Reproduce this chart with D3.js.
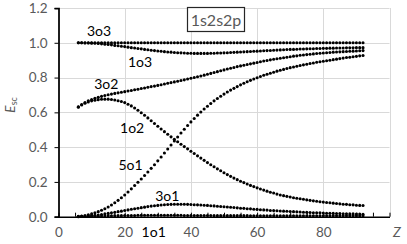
<!DOCTYPE html>
<html>
<head>
<meta charset="utf-8">
<script src="https://cdn.jsdelivr.net/npm/d3@7"></script>
<style>
  body { margin: 0; background: #fff; }
  svg { display: block; font-family: Lato, "Open Sans", sans-serif; }
</style>
</head>
<body>
<svg width="407" height="244"></svg>
<script>
// nuclear charge Z, one point per ion
const Z = [
  6, 7, 8, 9, 10, 11, 12, 13, 14, 15,
  16, 17, 18, 19, 20, 21, 22, 23, 24, 25,
  26, 27, 28, 29, 30, 31, 32, 33, 34, 35,
  36, 37, 38, 39, 40, 41, 42, 43, 44, 45,
  46, 47, 48, 49, 50, 51, 52, 53, 54, 55,
  56, 57, 58, 59, 60, 61, 62, 63, 64, 65,
  66, 67, 68, 69, 70, 71, 72, 73, 74, 75,
  76, 77, 78, 79, 80, 81, 82, 83, 84, 85,
  86, 87, 88, 89, 90, 91, 92
];

const e3o3 = [
  1.000, 1.000, 1.000, 1.000, 1.000, 1.000, 1.000, 1.000, 1.000, 1.000,
  1.000, 1.000, 1.000, 1.000, 1.000, 1.000, 1.000, 1.000, 1.000, 1.000,
  1.000, 1.000, 1.000, 1.000, 1.000, 1.000, 1.000, 1.000, 1.000, 1.000,
  1.000, 1.000, 1.000, 1.000, 1.000, 1.000, 1.000, 1.000, 1.000, 1.000,
  1.000, 1.000, 1.000, 1.000, 1.000, 1.000, 1.000, 1.000, 1.000, 1.000,
  1.000, 1.000, 1.000, 1.000, 1.000, 1.000, 1.000, 1.000, 1.000, 1.000,
  1.000, 1.000, 1.000, 1.000, 1.000, 1.000, 1.000, 1.000, 1.000, 1.000,
  1.000, 1.000, 1.000, 1.000, 1.000, 1.000, 1.000, 1.000, 1.000, 1.000,
  1.000, 1.000, 1.000, 1.000, 1.000, 1.000, 1.000
];

const e1o3 = [
  1.000, 1.000, 0.999, 0.999, 0.998, 0.997, 0.996, 0.994, 0.992, 0.990,
  0.988, 0.985, 0.983, 0.980, 0.978, 0.975, 0.972, 0.970, 0.967, 0.965,
  0.962, 0.960, 0.957, 0.955, 0.953, 0.951, 0.949, 0.947, 0.946, 0.944,
  0.943, 0.942, 0.941, 0.940, 0.940, 0.939, 0.939, 0.939, 0.939, 0.939,
  0.940, 0.940, 0.941, 0.941, 0.942, 0.943, 0.944, 0.945, 0.946, 0.947,
  0.948, 0.949, 0.950, 0.951, 0.952, 0.953, 0.954, 0.955, 0.956, 0.957,
  0.958, 0.959, 0.960, 0.961, 0.962, 0.962, 0.963, 0.964, 0.964, 0.965,
  0.966, 0.966, 0.967, 0.967, 0.968, 0.968, 0.969, 0.969, 0.970, 0.970,
  0.970, 0.971, 0.971, 0.971, 0.972, 0.972, 0.972
];

const e3o2 = [
  0.632, 0.645, 0.656, 0.666, 0.674, 0.681, 0.687, 0.692, 0.697, 0.701,
  0.705, 0.709, 0.712, 0.716, 0.719, 0.723, 0.726, 0.730, 0.733, 0.737,
  0.740, 0.744, 0.748, 0.751, 0.755, 0.759, 0.763, 0.767, 0.771, 0.775,
  0.779, 0.783, 0.787, 0.792, 0.796, 0.800, 0.805, 0.809, 0.814, 0.819,
  0.824, 0.829, 0.834, 0.839, 0.844, 0.849, 0.854, 0.858, 0.863, 0.867,
  0.871, 0.875, 0.879, 0.883, 0.887, 0.891, 0.895, 0.898, 0.902, 0.905,
  0.908, 0.911, 0.914, 0.917, 0.920, 0.923, 0.925, 0.928, 0.930, 0.932,
  0.934, 0.936, 0.938, 0.940, 0.941, 0.943, 0.944, 0.946, 0.947, 0.948,
  0.949, 0.950, 0.951, 0.952, 0.953, 0.954, 0.955
];

const e1o2 = [
  0.630, 0.642, 0.652, 0.660, 0.666, 0.670, 0.673, 0.675, 0.676, 0.676,
  0.674, 0.671, 0.667, 0.662, 0.656, 0.647, 0.637, 0.625, 0.612, 0.598,
  0.583, 0.568, 0.552, 0.536, 0.520, 0.504, 0.489, 0.474, 0.459, 0.445,
  0.431, 0.417, 0.403, 0.390, 0.376, 0.363, 0.350, 0.337, 0.324, 0.311,
  0.299, 0.287, 0.275, 0.264, 0.253, 0.242, 0.232, 0.222, 0.213, 0.204,
  0.196, 0.188, 0.180, 0.173, 0.166, 0.159, 0.153, 0.147, 0.141, 0.136,
  0.130, 0.125, 0.121, 0.117, 0.113, 0.109, 0.106, 0.103, 0.100, 0.097,
  0.094, 0.091, 0.089, 0.086, 0.084, 0.082, 0.080, 0.078, 0.076, 0.074,
  0.072, 0.071, 0.069, 0.068, 0.066, 0.065, 0.064
];

const e5o1 = [
  0.002, 0.004, 0.007, 0.011, 0.016, 0.022, 0.029, 0.037, 0.046, 0.056,
  0.067, 0.080, 0.094, 0.109, 0.125, 0.142, 0.160, 0.179, 0.198, 0.217,
  0.237, 0.257, 0.278, 0.299, 0.321, 0.343, 0.366, 0.389, 0.412, 0.435,
  0.458, 0.481, 0.503, 0.524, 0.545, 0.565, 0.584, 0.602, 0.619, 0.635,
  0.651, 0.666, 0.680, 0.693, 0.705, 0.717, 0.728, 0.738, 0.748, 0.758,
  0.767, 0.776, 0.784, 0.792, 0.799, 0.806, 0.813, 0.819, 0.825, 0.831,
  0.837, 0.842, 0.847, 0.852, 0.857, 0.861, 0.865, 0.869, 0.873, 0.877,
  0.881, 0.884, 0.888, 0.891, 0.894, 0.897, 0.900, 0.903, 0.906, 0.909,
  0.912, 0.915, 0.917, 0.920, 0.922, 0.925, 0.927
];

const e3o1 = [
  0.001, 0.002, 0.003, 0.004, 0.006, 0.008, 0.010, 0.013, 0.016, 0.019,
  0.022, 0.025, 0.029, 0.032, 0.036, 0.039, 0.043, 0.046, 0.049, 0.052,
  0.055, 0.058, 0.061, 0.063, 0.065, 0.067, 0.069, 0.070, 0.071, 0.072,
  0.072, 0.072, 0.072, 0.071, 0.070, 0.069, 0.068, 0.067, 0.066, 0.065,
  0.063, 0.062, 0.060, 0.059, 0.057, 0.056, 0.054, 0.053, 0.051, 0.049,
  0.048, 0.046, 0.045, 0.043, 0.042, 0.040, 0.039, 0.038, 0.036, 0.035,
  0.034, 0.033, 0.032, 0.031, 0.030, 0.029, 0.028, 0.027, 0.026, 0.025,
  0.024, 0.023, 0.023, 0.022, 0.021, 0.020, 0.020, 0.019, 0.018, 0.018,
  0.017, 0.017, 0.016, 0.016, 0.015, 0.015, 0.014
];

const e1o1 = [
  0.000, 0.001, 0.001, 0.002, 0.002, 0.003, 0.003, 0.004, 0.004, 0.005,
  0.005, 0.006, 0.006, 0.006, 0.007, 0.007, 0.007, 0.007, 0.008, 0.008,
  0.008, 0.008, 0.008, 0.008, 0.008, 0.008, 0.008, 0.008, 0.008, 0.008,
  0.008, 0.008, 0.007, 0.007, 0.007, 0.007, 0.007, 0.007, 0.007, 0.007,
  0.007, 0.006, 0.006, 0.006, 0.006, 0.006, 0.006, 0.006, 0.006, 0.006,
  0.006, 0.006, 0.005, 0.005, 0.005, 0.005, 0.005, 0.005, 0.005, 0.005,
  0.005, 0.005, 0.005, 0.005, 0.005, 0.005, 0.005, 0.005, 0.005, 0.005,
  0.005, 0.005, 0.005, 0.005, 0.005, 0.005, 0.005, 0.005, 0.005, 0.005,
  0.005, 0.005, 0.005, 0.005, 0.005, 0.005, 0.005
];

const seriesNames = ["3o3", "1o3", "3o2", "1o2", "5o1", "3o1", "1o1"];
const seriesValues = [e3o3, e1o3, e3o2, e1o2, e5o1, e3o1, e1o1];

// curve labels, placed in data units (Z, E_sc)
const labelZ = [8.6, 21.0, 10.8, 18.6, 18.1, 29.2, 25.1];
const labelE = [1.039, 0.860, 0.734, 0.484, 0.268, 0.093, -0.114];

const yTicks = [0, 0.2, 0.4, 0.6, 0.8, 1.0, 1.2];
const xTickLabels = [0, 20, 40, 60, 80];
const xGrid = [20, 40, 60, 80, 100];
const xMinorTicks = [0, 5, 10, 15, 20, 25, 30, 35, 40, 45, 50, 55, 60, 65, 70, 75, 80, 85, 90, 95, 100];
const title = "1s2s2p";

const svg = d3.select("svg");
const x = d3.scaleLinear().domain([0, 100]).range([58.5, 389.5]);
const y = d3.scaleLinear().domain([0, 1.2]).range([216.7, 8]);
const crisp = v => Math.round(v) + 0.5;

// gridlines
svg.append("g")
  .selectAll("line")
  .data(yTicks.slice(1))
  .join("line")
  .attr("x1", x(0)).attr("x2", x(100))
  .attr("y1", d => crisp(y(d))).attr("y2", d => crisp(y(d)))
  .attr("stroke", "#d9d9d9");

svg.append("g")
  .selectAll("line")
  .data(xGrid)
  .join("line")
  .attr("x1", d => crisp(x(d))).attr("x2", d => crisp(x(d)))
  .attr("y1", y(0)).attr("y2", y(1.2))
  .attr("stroke", "#d9d9d9");

// y axis
const yAxis = svg.append("g")
  .attr("transform", `translate(${x(0)},0)`)
  .call(d3.axisLeft(y).tickValues(yTicks).tickFormat(d3.format(".1f")).tickSize(4).tickPadding(7));
yAxis.select(".domain").attr("stroke", "#000").attr("stroke-width", 1.75);
yAxis.selectAll(".tick line").attr("stroke", "#000");
yAxis.selectAll(".tick text").attr("fill", "#595959").style("font-size", "13.5px").style("font-family", "Lato, sans-serif");

// x axis: small ticks every 5 pointing inward, labels every 20
const xTicks = svg.append("g")
  .attr("transform", `translate(0,${y(0)})`)
  .call(d3.axisBottom(x).tickValues(xMinorTicks).tickFormat("").tickSizeInner(-4).tickSizeOuter(0));
xTicks.select(".domain").attr("stroke", "#000").attr("stroke-width", 1.5);
xTicks.selectAll(".tick line").attr("stroke", "#000");

const xLabels = svg.append("g")
  .attr("transform", `translate(0,${y(0)})`)
  .call(d3.axisBottom(x).tickValues(xTickLabels).tickSize(0).tickPadding(11));
xLabels.select(".domain").remove();
xLabels.selectAll(".tick text").attr("fill", "#595959").style("font-size", "13.5px").style("font-family", "Lato, sans-serif");

// axis titles
svg.append("text")
  .attr("x", 393).attr("y", 237)
  .attr("fill", "#595959")
  .style("font-size", "14px").style("font-style", "italic")
  .text("Z");

const yTitle = svg.append("text")
  .attr("transform", "translate(15,105) rotate(-90)")
  .attr("text-anchor", "middle")
  .attr("fill", "#595959")
  .style("font-size", "14px");
yTitle.append("tspan").style("font-style", "italic").text("E");
yTitle.append("tspan").attr("dy", 2).style("font-size", "9px").text("sc");

// points
seriesValues.forEach(vals => {
  svg.append("g")
    .selectAll("circle")
    .data(vals)
    .join("circle")
    .attr("cx", (d, i) => x(Z[i]))
    .attr("cy", d => y(d))
    .attr("r", 1.55)
    .attr("fill", "#000");
});

// curve labels
svg.append("g")
  .selectAll("text")
  .data(seriesNames)
  .join("text")
  .attr("x", (d, i) => x(labelZ[i]))
  .attr("y", (d, i) => y(labelE[i]))
  .attr("fill", "#000")
  .style("font-size", "14px")
  .text(d => d);

// title box
svg.append("rect")
  .attr("x", 187.5).attr("y", 7.5)
  .attr("width", 57).attr("height", 24)
  .attr("fill", "#fff")
  .attr("stroke", "#262626")
  .attr("stroke-width", 1.2);
svg.append("text")
  .attr("x", 216).attr("y", 26)
  .attr("text-anchor", "middle")
  .attr("fill", "#595959")
  .style("font-size", "16px")
  .text(title);
</script>
</body>
</html>
